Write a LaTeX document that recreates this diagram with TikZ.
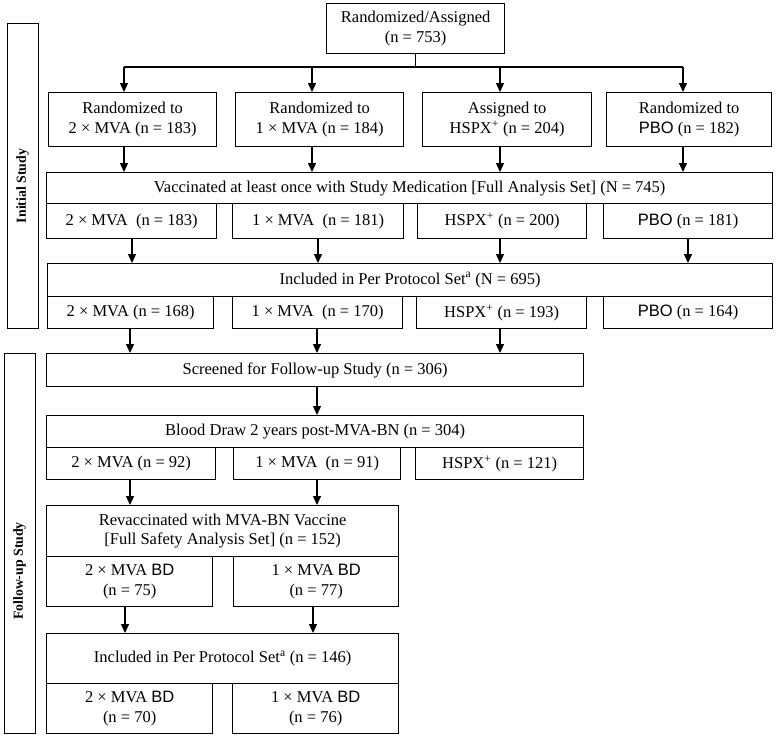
\documentclass[tikz,border=0pt]{standalone}
\usepackage{fontspec}
\setmainfont{Liberation Serif}
\newfontfamily\sansf{Liberation Sans}
\usetikzlibrary{arrows.meta}
\newcommand\mybox[6]{\node[box, anchor=north west, minimum width={(#4-#2)*1pt}, minimum height={(#5-#3)*1pt}] (#1) at (#2,#3) {#6};}
\newcommand\pbo{{\sansf PBO}}
\newcommand\bd{{\sansf BD}}
\newcommand\hspx{HSPX\textsuperscript{+}}
\begin{document}
\begin{tikzpicture}[x=1pt,y=-1pt,
 box/.style={draw, line width=1.3pt, inner sep=0pt, align=center, font=\fontsize{16.5}{19.5}\selectfont},
 arr/.style={line width=1.3pt, -{Triangle[length=9pt,width=8pt]}},
 conn/.style={line width=1.3pt},
 lbl/.style={font=\fontsize{13.8}{16}\selectfont\bfseries, rotate=90}]
\useasboundingbox (0,0) rectangle (777,737);

% side labels
\node[draw, line width=1.3pt, anchor=north west, minimum width=31pt, minimum height=305pt, inner sep=0pt] (initbox) at (7,23) {};
\node[lbl] (inittxt) at (22.5,186) {Initial Study};
\node[draw, line width=1.3pt, anchor=north west, minimum width=31pt, minimum height=380pt, inner sep=0pt] (follbox) at (4,353) {};
\node[lbl] (folltxt) at (19.5,571) {Follow-up Study};

% top
\mybox{top}{326}{3}{504}{53}{Randomized/Assigned\\(n = 753)}

% row 1
\mybox{ra}{48}{92}{216}{146}{Randomized to\\2 × MVA (n = 183)}
\mybox{rb}{235}{92}{403}{146}{Randomized to\\1 × MVA (n = 184)}
\mybox{rc}{422}{92}{591}{146}{Assigned to\\\hspx{} (n = 204)}
\mybox{rd}{606}{92}{771}{146}{Randomized to\\\pbo{} (n = 182)}

% vaccinated
\mybox{vac}{46}{172}{772}{203}{Vaccinated at least once with Study Medication [Full Analysis Set] (N = 745)}
\mybox{va}{46}{203}{216}{238}{2 × MVA~ (n = 183)}
\mybox{vb}{232}{203}{403}{238}{1 × MVA~ (n = 181)}
\mybox{vc}{417}{203}{586}{238}{\hspx{} (n = 200)}
\mybox{vd}{603}{203}{772}{238}{\pbo{} (n = 181)}

% per protocol
\mybox{pp}{47}{263}{772}{296}{Included in Per Protocol Set\textsuperscript{a} (N = 695)}
\mybox{pa}{47}{296}{213}{328}{2 × MVA (n = 168)}
\mybox{pb}{232}{296}{402}{328}{1 × MVA~ (n = 170)}
\mybox{pc}{416}{296}{586}{328}{\hspx{} (n = 193)}
\mybox{pd}{603}{296}{772}{328}{\pbo{} (n = 164)}

% screened
\mybox{scr}{46}{353}{583}{386}{Screened for Follow-up Study (n = 306)}

% blood draw
\mybox{bld}{46}{415}{583}{447}{Blood Draw 2 years post-MVA-BN (n = 304)}
\mybox{ba}{46}{447}{215}{479}{2 × MVA (n = 92)}
\mybox{bb}{233}{447}{400}{479}{1 × MVA~ (n = 91)}
\mybox{bc}{415}{447}{583}{479}{\hspx{} (n = 121)}

% revaccinated
\mybox{rev}{46}{505}{398}{556}{Revaccinated with MVA-BN Vaccine\\{[Full Safety Analysis Set] (n = 152)}}
\mybox{rva}{46}{556}{212}{606}{2 × MVA \bd\\(n = 75)}
\mybox{rvb}{233}{556}{398}{606}{1 × MVA \bd\\(n = 77)}

% per protocol follow-up
\mybox{pp2}{46}{633}{398}{683}{Included in Per Protocol Set\textsuperscript{a} (n = 146)}
\mybox{qa}{46}{683}{212}{733}{2 × MVA \bd\\(n = 70)}
\mybox{qb}{232}{683}{398}{733}{1 × MVA \bd\\(n = 76)}

% arrow x positions
\coordinate (hbar) at (0,67);
\coordinate (a1) at (124,0); \coordinate (a2) at (312,0);
\coordinate (a3) at (500,0); \coordinate (a4) at (683,0);
\coordinate (b1) at (132,0); \coordinate (b2) at (318,0);
\coordinate (b3) at (500,0); \coordinate (b4) at (688,0);
\coordinate (c1) at (130,0); \coordinate (c2) at (317,0); \coordinate (c3) at (500,0);
\coordinate (d1) at (317,0);
\coordinate (e1) at (130,0); \coordinate (e2) at (317,0);
\coordinate (f1) at (125,0); \coordinate (f2) at (313,0);

% connectors
\draw[conn] (top.south) -- (top.south |- hbar);
\draw[conn] (hbar -| a1) -- (hbar -| a4);
\draw[arr] (hbar -| a1) -- (ra.north -| a1);
\draw[arr] (hbar -| a2) -- (rb.north -| a2);
\draw[arr] (hbar -| a3) -- (rc.north -| a3);
\draw[arr] (hbar -| a4) -- (rd.north -| a4);

\draw[arr] (ra.south -| a1) -- (vac.north -| a1);
\draw[arr] (rb.south -| a2) -- (vac.north -| a2);
\draw[arr] (rc.south -| a3) -- (vac.north -| a3);
\draw[arr] (rd.south -| a4) -- (vac.north -| a4);

\draw[arr] (va.south -| b1) -- (pp.north -| b1);
\draw[arr] (vb.south -| b2) -- (pp.north -| b2);
\draw[arr] (vc.south -| b3) -- (pp.north -| b3);
\draw[arr] (vd.south -| b4) -- (pp.north -| b4);

\draw[arr] (pa.south -| c1) -- (scr.north -| c1);
\draw[arr] (pb.south -| c2) -- (scr.north -| c2);
\draw[arr] (pc.south -| c3) -- (scr.north -| c3);

\draw[arr] (scr.south -| d1) -- (bld.north -| d1);

\draw[arr] (ba.south -| e1) -- (rev.north -| e1);
\draw[arr] (bb.south -| e2) -- (rev.north -| e2);

\draw[arr] (rva.south -| f1) -- (pp2.north -| f1);
\draw[arr] (rvb.south -| f2) -- (pp2.north -| f2);
\end{tikzpicture}
\end{document}
